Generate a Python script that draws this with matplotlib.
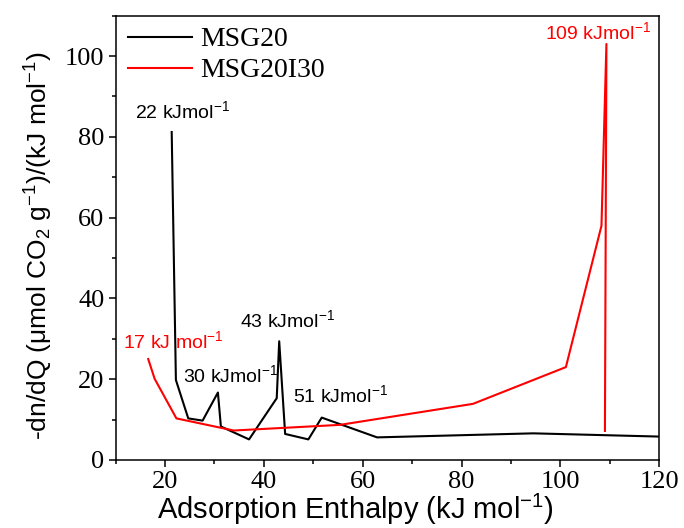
import matplotlib
matplotlib.use("Agg")
import matplotlib.pyplot as plt
from matplotlib.ticker import MultipleLocator

plt.rcParams['mathtext.fontset'] = 'custom'
plt.rcParams['mathtext.rm'] = 'Liberation Sans'
plt.rcParams['mathtext.it'] = 'Liberation Sans:italic'
plt.rcParams['mathtext.bf'] = 'Liberation Sans:bold'

# MSG20 (black)
msg20_x = [21.35, 22.2, 24.7, 27.6, 30.7, 31.3, 37.0, 42.6, 43.1, 44.3, 49.0, 51.7, 62.9, 94.5, 120.0]
msg20_y = [81.2, 19.8, 10.3, 9.75, 16.7, 8.3, 5.1, 15.3, 29.4, 6.45, 5.1, 10.5, 5.6, 6.6, 5.8]

# MSG20I30 (red)
msg20i30_x = [16.6, 17.9, 22.3, 33.9, 55.4, 82.3, 101.1, 108.3, 109.3, 109.0]
msg20i30_y = [25.0, 20.1, 10.3, 7.3, 8.7, 13.9, 23.0, 58.0, 103.0, 7.2]

# annotations: (text, x, y, colour)
labels = [
    ("22 kJmol$^{-1}$", 13.9, 84.6, "black"),
    ("43 kJmol$^{-1}$", 35.2, 32.8, "black"),
    ("30 kJmol$^{-1}$", 23.6, 19.4, "black"),
    ("51 kJmol$^{-1}$", 45.9, 14.4, "black"),
    ("17 kJ mol$^{-1}$", 11.5, 27.8, "red"),
    ("109 kJmol$^{-1}$", 96.9, 104.2, "red"),
]

fig = plt.figure(figsize=(6.84, 5.28), dpi=100)
ax = fig.add_axes([115.6 / 684, (528 - 460) / 528, (659.3 - 115.6) / 684, (460 - 15.7) / 528])

ax.plot(msg20_x, msg20_y, color="black", lw=1.5, label="MSG20")
ax.plot(msg20i30_x, msg20i30_y, color="red", lw=1.5, label="MSG20I30")

for txt, x, y, c in labels:
    ax.text(x, y, txt, color=c, fontsize=14, family="Liberation Sans", va="baseline", ha="left")

ax.set_xlim(10, 120)
ax.set_ylim(0, 110)
ax.xaxis.set_major_locator(MultipleLocator(20))
ax.xaxis.set_minor_locator(MultipleLocator(10))
ax.yaxis.set_major_locator(MultipleLocator(20))
ax.yaxis.set_minor_locator(MultipleLocator(10))
ax.tick_params(which="major", direction="out", length=5, width=1.1, labelsize=19, pad=3)
ax.tick_params(which="minor", direction="out", length=3, width=1.1)
for lab in ax.get_xticklabels() + ax.get_yticklabels():
    lab.set_family("Liberation Serif")
for sp in ax.spines.values():
    sp.set_linewidth(1.1)

ax.set_xlabel("Adsorption Enthalpy (kJ mol$^{-1}$)", fontsize=21, family="Liberation Sans")
ax.xaxis.set_label_coords(0.442, -0.072)
ax.set_ylabel("-dn/dQ (\u03bcmol CO$_2$ g$^{-1}$)/(kJ mol$^{-1}$)", fontsize=19,
              family="Liberation Sans")
ax.yaxis.set_label_coords(-0.111, 0.482)

leg = ax.legend(loc="upper left", bbox_to_anchor=(0.0228, 0.9746), frameon=False,
                prop={"family": "Liberation Serif", "size": 20},
                handlelength=2.3, handletextpad=0.3, borderaxespad=0, borderpad=0,
                labelspacing=0.2)

fig.savefig("out.png", dpi=100)
